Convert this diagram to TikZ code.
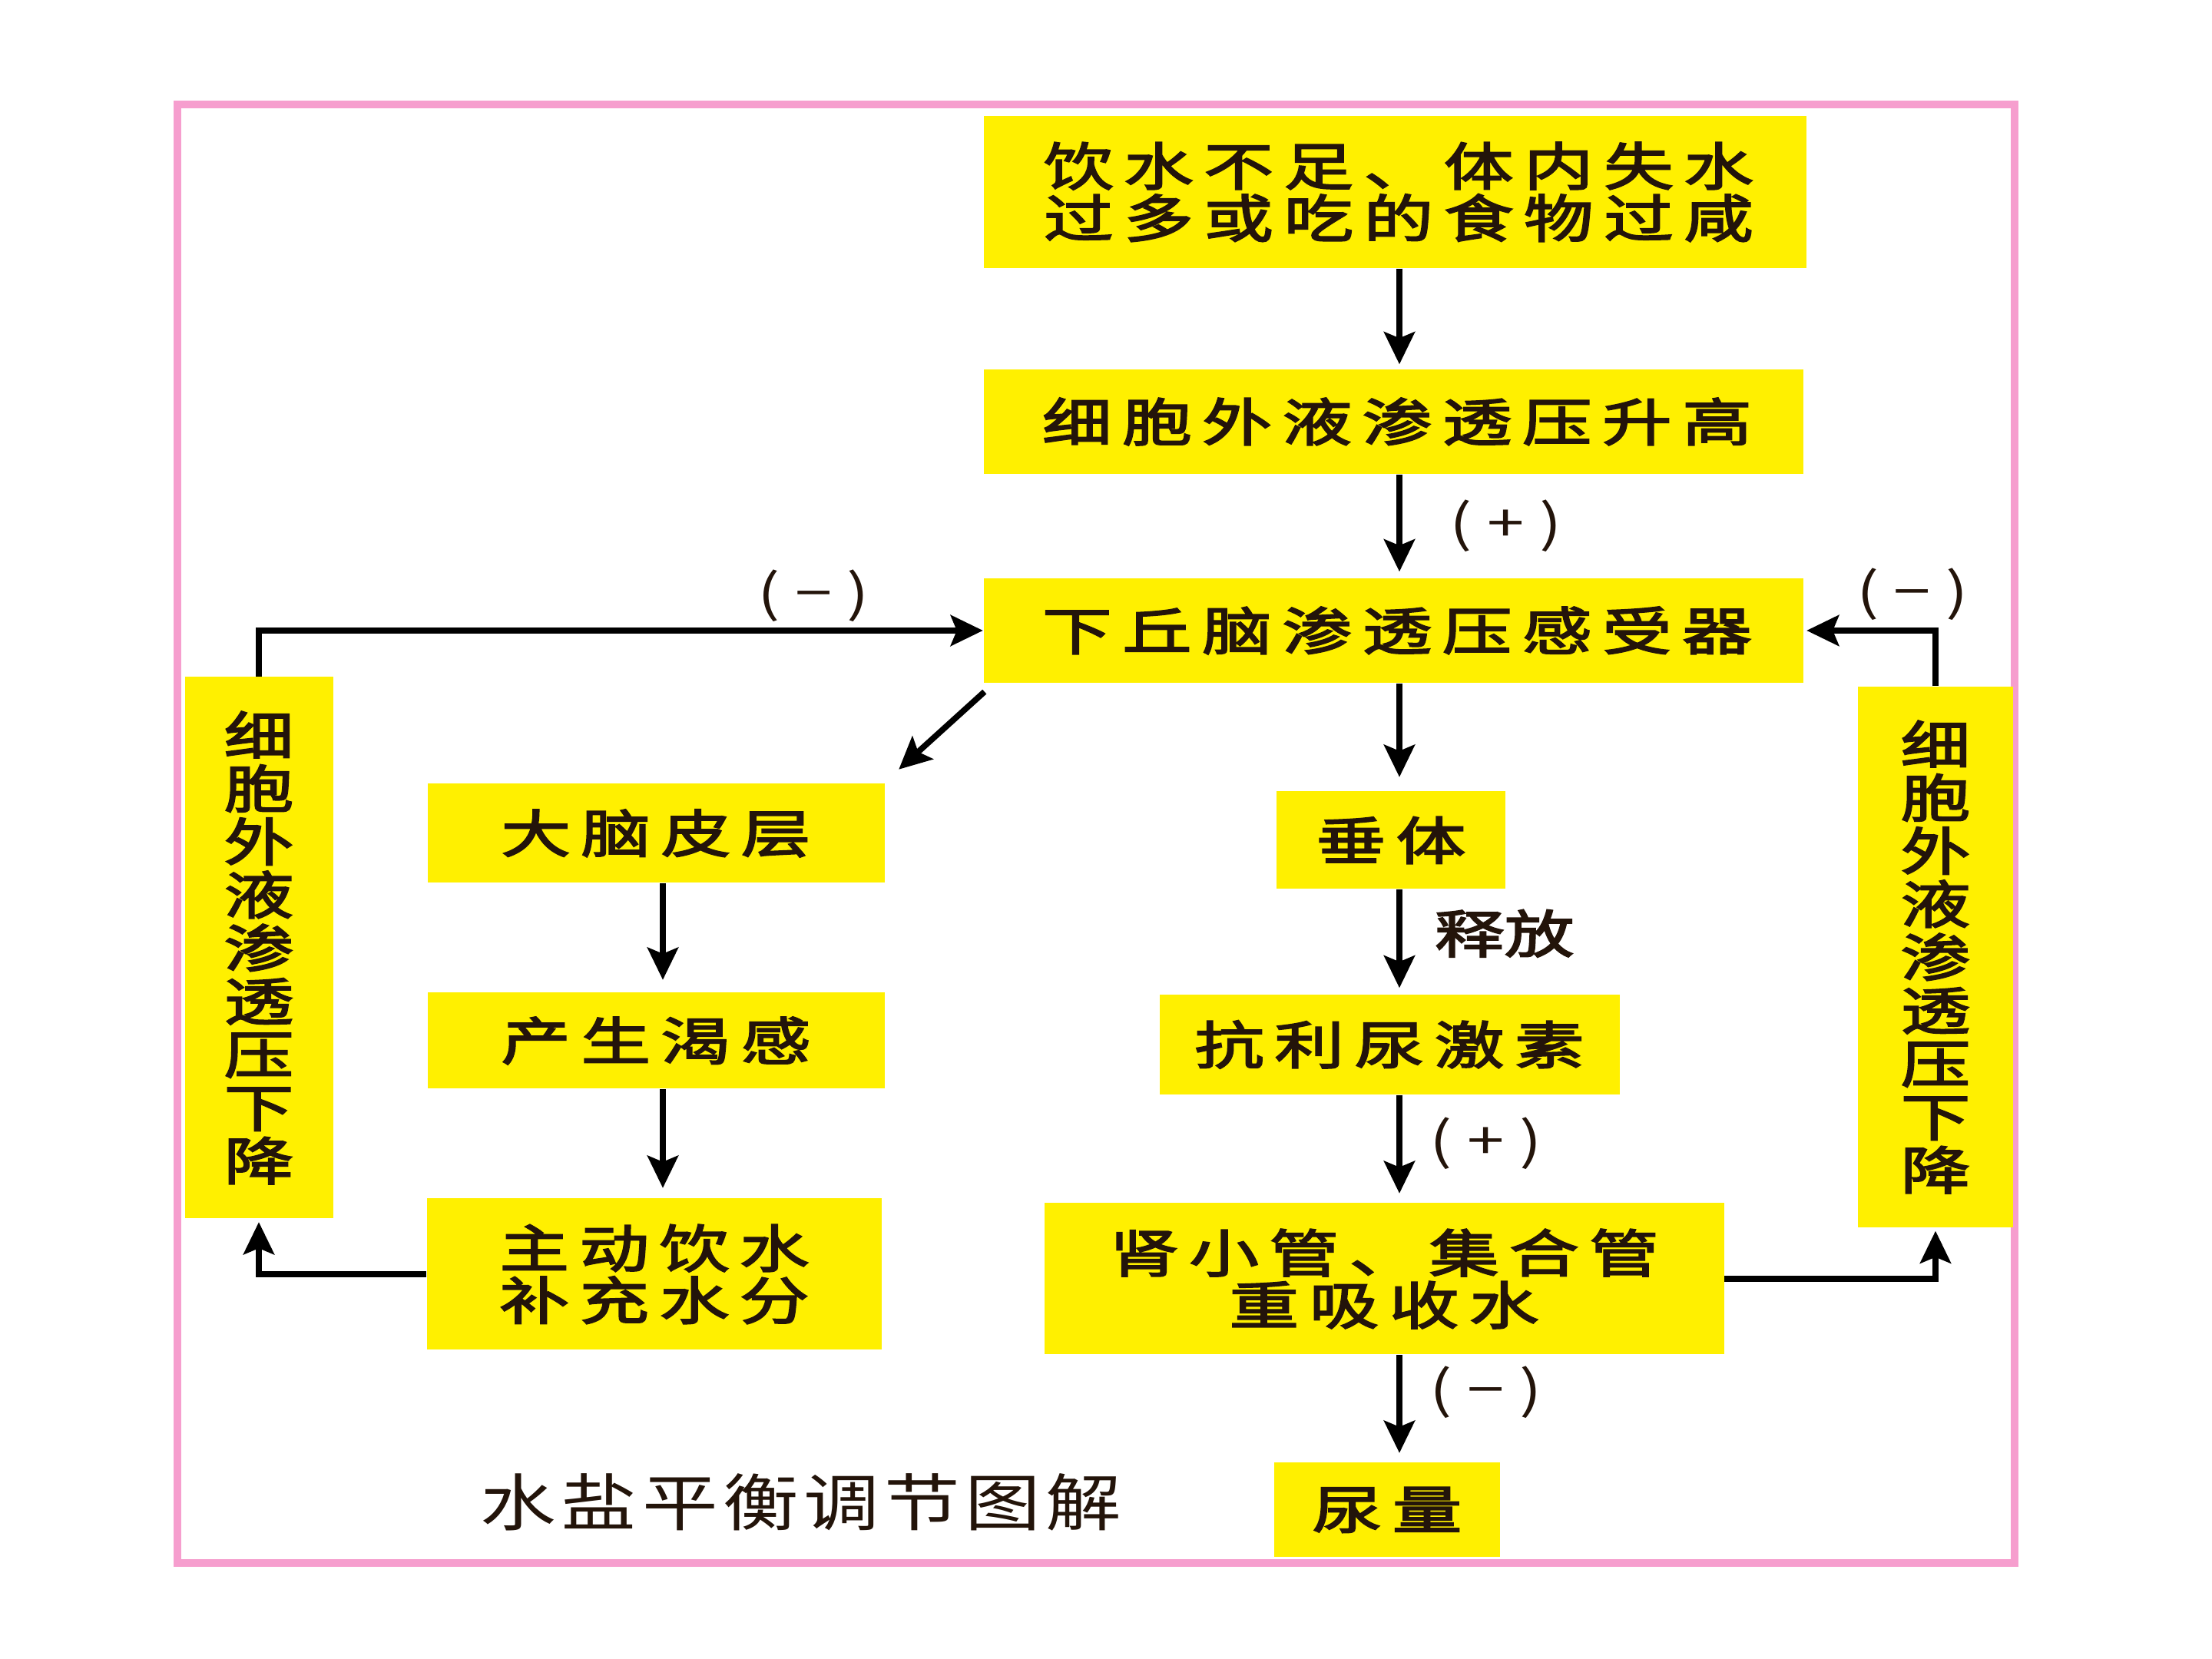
\documentclass[tikz,border=0pt]{standalone}
\usepackage{fontspec}
\usetikzlibrary{arrows.meta, positioning}

\newfontfamily\boxfont{Noto Sans CJK SC}[FakeStretch=1.36, LetterSpace=20, FakeBold=3]
\newfontfamily\vertfont{Noto Sans CJK SC}[FakeStretch=1.36, FakeBold=3]
\newfontfamily\tagfont{Noto Sans CJK SC}[FakeStretch=1.3]
\newfontfamily\capfont{Noto Sans CJK SC}[FakeStretch=1.22, LetterSpace=8]

\definecolor{boxyellow}{RGB}{255,240,0}
\definecolor{framepink}{RGB}{246,158,206}
\definecolor{inkdark}{RGB}{35,20,10}

\begin{document}
\begin{tikzpicture}[
    >={Stealth[length=0.42cm, width=0.40cm, inset=0.08cm]},
    box/.style={fill=boxyellow, inner sep=0pt, align=center, text=inkdark,
      font=\boxfont\fontsize{19}{19.3}\selectfont},
    vbox/.style={box, font=\vertfont\fontsize{19}{19.7}\selectfont},
    arr/.style={->, line width=2.2pt, shorten >=0.12cm},
    loop/.style={->, line width=2.2pt, shorten >=0.04cm},
    sign/.style={inner sep=0pt, text=inkdark,
      font=\tagfont\fontsize{19}{19}\selectfont},
]
\useasboundingbox (0,0) rectangle (28.8,21.6);

% ---- frame ----
\draw[framepink, line width=3pt] (2.31,1.25) rectangle (26.23,20.24);

% ---- main column ----
\node[box, minimum width=10.71cm, minimum height=1.98cm] (cause) at (18.16,19.10)
  {\hspace{0.1cm}饮水不足、体内失水\\\hspace{0.1cm}过多或吃的食物过咸};
\node[box, minimum width=10.67cm, minimum height=1.36cm] (rise) at (18.14,16.11)
  {\hspace{0.1cm}细胞外液渗透压升高};
\node[box, minimum width=10.67cm, minimum height=1.36cm] (sensor) at (18.14,13.39)
  {\hspace{0.1cm}下丘脑渗透压感受器};

% ---- right branch (pituitary) ----
\node[box, minimum width=2.98cm, minimum height=1.27cm] (pit) at (18.11,10.66) {垂体};
\node[box, minimum width=5.99cm, minimum height=1.30cm] (adh) at (18.09,8.00) {抗利尿激素};
\node[box, minimum width=8.85cm, minimum height=1.97cm] (kid) at (18.02,4.95)
  {肾小管、集合管\\重吸收水};
\node[box, minimum width=2.94cm, minimum height=1.23cm] (urine) at (18.06,1.94) {尿量};

% ---- left branch (cortex) ----
\node[box, minimum width=5.95cm, minimum height=1.29cm] (cortex) at (8.54,10.75) {大脑皮层};
\node[box, minimum width=5.95cm, minimum height=1.25cm] (thirst) at (8.54,8.05) {产生渴感};
\node[box, minimum width=5.92cm, minimum height=1.97cm] (drink) at (8.52,5.01)
  {主动饮水\\补充水分};

% ---- feedback boxes ----
\node[vbox, minimum width=1.93cm, minimum height=7.05cm] (lfall) at (3.37,9.26)
  {细\\胞\\外\\液\\渗\\透\\压\\下\\降};
\node[vbox, minimum width=2.02cm, minimum height=7.04cm] (rfall) at (25.20,9.14)
  {细\\胞\\外\\液\\渗\\透\\压\\下\\降};

% ---- column axes ----
\coordinate (colR) at (18.22,0);
\coordinate (colL) at (8.63,0);

% ---- arrows ----
\draw[arr, shorten >=0.06cm] (cause.south -| colR) -- (rise.north -| colR);
\draw[arr, shorten >=0.08cm] (rise.south -| colR)
  -- node[sign, right=0.62cm] (plus1) {( + )} (sensor.north -| colR);
\draw[arr, shorten >=0.18cm] (sensor.south -| colR) -- (pit.north -| colR);
\draw[arr, shorten >=0.08cm] (pit.south -| colR)
  -- node[sign, pos=0.42, right=0.42cm, font=\vertfont\fontsize{19}{19}\selectfont] (rel) {释放}
  (adh.north -| colR);
\draw[arr] (adh.south -| colR)
  -- node[sign, pos=0.45, right=0.36cm] (plus2) {( + )} (kid.north -| colR);
\draw[arr] (kid.south -| colR)
  -- node[sign, pos=0.35, right=0.36cm] (minus3) {( − )} (urine.north -| colR);

\draw[arr, shorten >=0.0cm] ([shift={(0.02,-0.11)}]sensor.south west)
  -- ([shift={(0.18,0.18)}]cortex.north east);
\draw[arr, shorten >=0.16cm] (cortex.south -| colL) -- (thirst.north -| colL);
\draw[arr, shorten >=0.13cm] (thirst.south -| colL) -- (drink.north -| colL);

% ---- feedback loops ----
\draw[loop, shorten >=0pt] (lfall.north)
  |- node[sign, pos=0.883, above=0.08cm] (minus1) {( − )} (sensor.west);
\draw[loop] (rfall.north)
  |- node[sign, pos=0.5, above=0.1cm, xshift=-0.3cm] (minus2) {( − )} (sensor.east);
\draw[loop] (drink.west) -| (lfall.south);
\draw[loop] (kid.east) -| (rfall.south);

% ---- caption ----
\node[inner sep=0pt, text=inkdark, font=\capfont\fontsize{23}{23}\selectfont]
  (title) at (10.43,2.04) {水盐平衡调节图解};

\end{tikzpicture}
\end{document}
